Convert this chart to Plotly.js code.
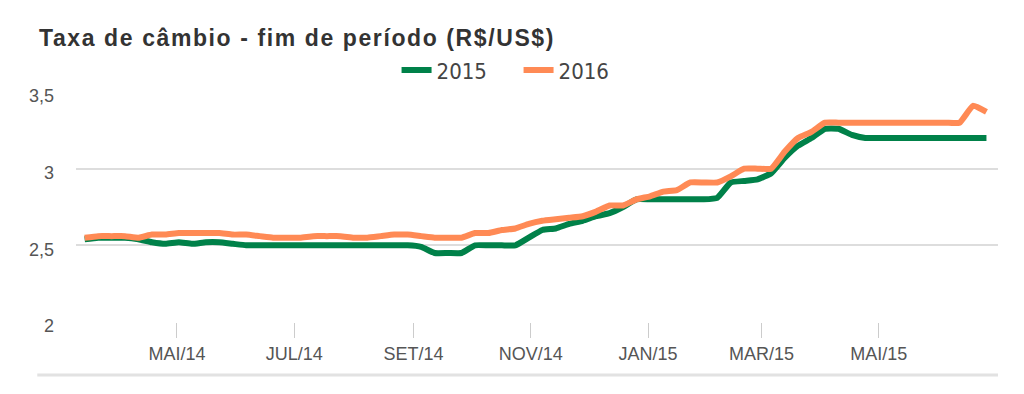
<!DOCTYPE html>
<html>
<head>
<meta charset="utf-8">
<script src="https://cdn.plot.ly/plotly-3.0.1.min.js"></script>
<style>
html,body{margin:0;padding:0;background:#fff;}
#chart{width:1024px;height:394px;}
#chart .gtitle{letter-spacing:1.6px;}
</style>
</head>
<body>
<div id="chart"></div>
<script>
const dates = [
  '2014-03-14','2014-03-21','2014-03-28','2014-04-04','2014-04-11','2014-04-18','2014-04-25',
  '2014-05-02','2014-05-09','2014-05-16','2014-05-23','2014-05-30','2014-06-06','2014-06-13',
  '2014-06-20','2014-06-27','2014-07-04','2014-07-11','2014-07-18','2014-07-25','2014-08-01',
  '2014-08-08','2014-08-15','2014-08-22','2014-08-29','2014-09-05','2014-09-12','2014-09-19',
  '2014-09-26','2014-10-03','2014-10-10','2014-10-17','2014-10-24','2014-10-31','2014-11-07',
  '2014-11-14','2014-11-21','2014-11-28','2014-12-05','2014-12-12','2014-12-19','2014-12-26',
  '2015-01-02','2015-01-09','2015-01-16','2015-01-23','2015-01-30','2015-02-06','2015-02-13',
  '2015-02-20','2015-02-27','2015-03-06','2015-03-13','2015-03-20','2015-03-27','2015-04-03',
  '2015-04-10','2015-04-17','2015-04-24','2015-05-01','2015-05-08','2015-05-15','2015-05-22',
  '2015-05-29','2015-06-05','2015-06-12','2015-06-19','2015-06-26'
];
const serie2015 = [
  2.54,2.55,2.55,2.55,2.54,2.52,2.51,
  2.52,2.51,2.52,2.52,2.51,2.50,2.50,
  2.50,2.50,2.50,2.50,2.50,2.50,2.50,
  2.50,2.50,2.50,2.50,2.49,2.45,2.45,
  2.45,2.50,2.50,2.50,2.50,2.55,2.60,
  2.61,2.64,2.66,2.69,2.71,2.75,2.80,
  2.80,2.80,2.80,2.80,2.80,2.81,2.91,
  2.92,2.93,2.97,3.07,3.15,3.20,3.26,
  3.26,3.22,3.20,3.20,3.20,3.20,3.20,
  3.20,3.20,3.20,3.20,3.20
];
const serie2016 = [
  2.55,2.56,2.56,2.56,2.55,2.57,2.57,
  2.58,2.58,2.58,2.58,2.57,2.57,2.56,
  2.55,2.55,2.55,2.56,2.56,2.56,2.55,
  2.55,2.56,2.57,2.57,2.56,2.55,2.55,
  2.55,2.58,2.58,2.60,2.61,2.64,2.66,
  2.67,2.68,2.69,2.72,2.76,2.76,2.80,
  2.82,2.85,2.86,2.91,2.91,2.91,2.95,
  3.00,3.00,3.00,3.11,3.20,3.24,3.30,
  3.30,3.30,3.30,3.30,3.30,3.30,3.30,
  3.30,3.30,3.30,3.41,3.37
];
const seriesNames = ['2015','2016'];
const seriesColors = ['#008149','#FF8A55'];
const xTickVals = ['2014-05-01','2014-07-01','2014-09-01','2014-11-01','2015-01-01','2015-03-01','2015-05-01'];
const xTickText = ['MAI/14','JUL/14','SET/14','NOV/14','JAN/15','MAR/15','MAI/15'];
const yTickVals = [2, 2.5, 3, 3.5];

const baseFont = 'Arial, "Liberation Sans", sans-serif';
const traces = [serie2015, serie2016].map((vals, i) => ({
  type: 'scatter',
  mode: 'lines',
  name: seriesNames[i],
  x: dates,
  y: vals,
  line: {color: seriesColors[i], width: 6, shape: 'spline', smoothing: 0.4},
  hoverinfo: 'x+y'
}));

const layout = {
  width: 1024, height: 394,
  separators: ',.',
  paper_bgcolor: '#fff', plot_bgcolor: '#fff',
  margin: {l: 76, r: 26, t: 92, b: 72},
  font: {family: baseFont, color: '#555'},
  title: {
    text: '<b>Taxa de câmbio - fim de período (R$/US$)</b>',
    font: {family: baseFont, size: 23, color: '#333'},
    xref: 'container', yref: 'container',
    x: 39/1024, xanchor: 'left', y: 1 - 38/394, yanchor: 'middle'
  },
  showlegend: true,
  legend: {
    orientation: 'h', x: 0.480, xanchor: 'center', y: 1.095, yanchor: 'middle',
    font: {family: '"DejaVu Sans Condensed", "DejaVu Sans", Arial, sans-serif', size: 22, color: '#444'},
    itemwidth: 30, entrywidth: 77, entrywidthmode: 'pixels', bgcolor: 'rgba(0,0,0,0)'
  },
  xaxis: {
    type: 'date',
    range: ['2014-03-09 12:00', '2015-07-02'],
    tickmode: 'array', tickvals: xTickVals, ticktext: xTickText,
    ticks: 'outside', ticklen: 15, tickwidth: 1, tickcolor: '#ccc',
    showgrid: false, zeroline: false, showline: false,
    tickfont: {family: baseFont, size: 18, color: '#555'}
  },
  yaxis: {
    range: [2, 3.5],
    tickmode: 'array', tickvals: yTickVals,
    showgrid: true, gridcolor: '#ddd', gridwidth: 2,
    zeroline: false, showline: false,
    ticks: '', ticklabelstandoff: 21, ticklabelshift: 4,
    tickfont: {family: baseFont, size: 18, color: '#555'}
  },
  shapes: [{
    type: 'line', xref: 'paper', yref: 'paper',
    x0: -0.042, x1: 1, y0: -0.23, y1: -0.23,
    line: {color: '#e2e2e2', width: 3}
  }]
};

Plotly.newPlot('chart', traces, layout, {displayModeBar: false, staticPlot: true});
</script>
</body>
</html>
